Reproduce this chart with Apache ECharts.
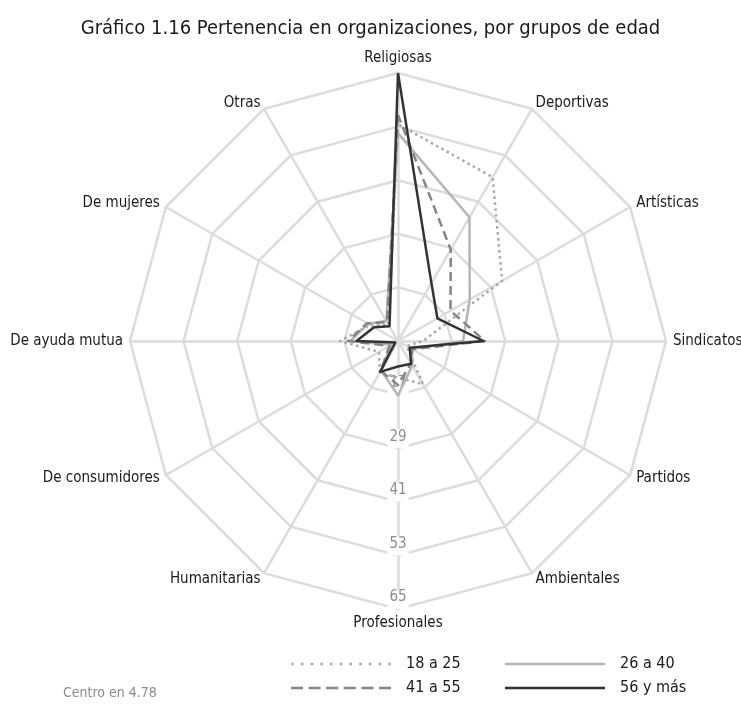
<!DOCTYPE html>
<html>
<head>
<meta charset="utf-8">
<script src="https://cdn.jsdelivr.net/npm/echarts@6/dist/echarts.min.js"></script>
<style>
  html, body { margin: 0; padding: 0; background: #fff; }
  #chart { width: 741px; height: 717px; }
</style>
</head>
<body>
<div id="chart"></div>
<script>
const font = "'Liberation Sans Narrow', 'DejaVu Sans Condensed', 'Roboto Condensed', sans-serif";

// categories, clockwise from the top
const categories = ['Religiosas', 'Deportivas', 'Artísticas', 'Sindicatos', 'Partidos', 'Ambientales',
  'Profesionales', 'Humanitarias', 'De consumidores', 'De ayuda mutua', 'De mujeres', 'Otras'];
const tickLabels = ['17', '29', '41', '53', '65'];
const axisMin = 4.78;
const axisMax = 65;

const seriesNames = ['18 a 25', '26 a 40', '41 a 55', '56 y más'];
const age18to25 = [53.5, 47.3, 31.8, 10.4, 7.0, 16.0, 13.0, 13.0, 9.7, 17.8, 12.0, 9.0];
const age26to40 = [51.5, 36.9, 23.4, 19.4, 8.4, 11.2, 17.0, 12.4, 6.5, 15.5, 12.5, 10.0];
const age41to55 = [55.6, 28.5, 18.4, 24.3, 8.5, 10.6, 14.7, 12.5, 7.0, 16.0, 12.8, 9.7];
const age56plus = [65.0, 19.8, 15.0, 24.0, 7.8, 10.7, 10.5, 12.8, 5.5, 14.1, 11.0, 8.6];

const colors = ['#a8a8a8', '#b5b5b5', '#858585', '#333333'];
const lineTypes = [[2.5, 3.5], 'solid', [9, 5], 'solid'];

// echarts lays radar indicators out counter-clockwise, the picture goes clockwise
const order = categories.map((_, i) => (categories.length - i) % categories.length);

// legend icons drawn as little paths so the dash pattern shows
function dashIcon(dash, gap) {
  let d = '';
  for (let x = 0; x < 100; x += dash + gap) {
    const w = Math.min(dash, 100 - x);
    d += `M${x},0h${w}v2.5h-${w}z`;
  }
  return 'path://' + d;
}
const icons = [dashIcon(2.5, 7.2), dashIcon(100, 0), dashIcon(12, 5.6), dashIcon(100, 0)];

const values = [age18to25, age26to40, age41to55, age56plus];

const series = values.map((vals, s) => ({
  type: 'radar',
  name: seriesNames[s],
  symbol: 'none',
  z: 2 + s,
  lineStyle: { color: colors[s], width: 2.5, type: lineTypes[s], opacity: 1 },
  itemStyle: { color: colors[s] },
  data: [{ name: seriesNames[s], value: order.map(k => vals[k]) }]
}));

const legendText = { fontFamily: font, fontSize: 16, color: '#1a1a1a', padding: [0, 0, 0, 10] };

const option = {
  animation: false,
  title: [
    {
      text: 'Gráfico 1.16 Pertenencia en organizaciones, por grupos de edad',
      left: 'center',
      top: 14,
      textStyle: { fontFamily: font, fontSize: 20, fontWeight: 'normal', color: '#1a1a1a' }
    },
    {
      text: 'Centro en 4.78',
      left: 58,
      top: 681,
      textStyle: { fontFamily: font, fontSize: 14, fontWeight: 'normal', color: '#8c8c8c' }
    }
  ],
  legend: [
    {
      left: 286, top: 651, orient: 'vertical', itemGap: 8,
      itemWidth: 100, itemHeight: 2.5,
      textStyle: legendText,
      data: [0, 2].map(i => ({ name: seriesNames[i], icon: icons[i] }))
    },
    {
      left: 500, top: 651, orient: 'vertical', itemGap: 8,
      itemWidth: 100, itemHeight: 2.5,
      textStyle: legendText,
      data: [1, 3].map(i => ({ name: seriesNames[i], icon: icons[i] }))
    }
  ],
  radar: {
    center: [398, 341],
    radius: 268,
    startAngle: 90,
    splitNumber: 5,
    shape: 'polygon',
    nameGap: 7,
    axisName: { fontFamily: font, fontSize: 15, color: '#1a1a1a' },
    axisLine: { lineStyle: { color: '#dcdcdc', width: 2.5 } },
    splitLine: { lineStyle: { color: '#dcdcdc', width: 2.5 } },
    splitArea: { show: false },
    axisTick: { show: false },
    axisLabel: {
      show: false,
      margin: 0,
      align: 'center',
      verticalAlign: 'bottom',
      showMinLabel: false,
      fontFamily: font,
      fontSize: 15,
      color: '#8c8c8c',
      backgroundColor: '#fff',
      padding: [0, 2, 4, 2],
      formatter: v => tickLabels.find(t => Math.abs(Number(t) - v) < 1) || ''
    },
    indicator: order.map(k => ({
      name: categories[k],
      min: axisMin,
      max: axisMax,
      axisLabel: { show: categories[k] === 'Profesionales' }
    }))
  },
  series: series
};

const chart = echarts.init(document.getElementById('chart'), null, { renderer: 'canvas' });
chart.setOption(option);
</script>
</body>
</html>
